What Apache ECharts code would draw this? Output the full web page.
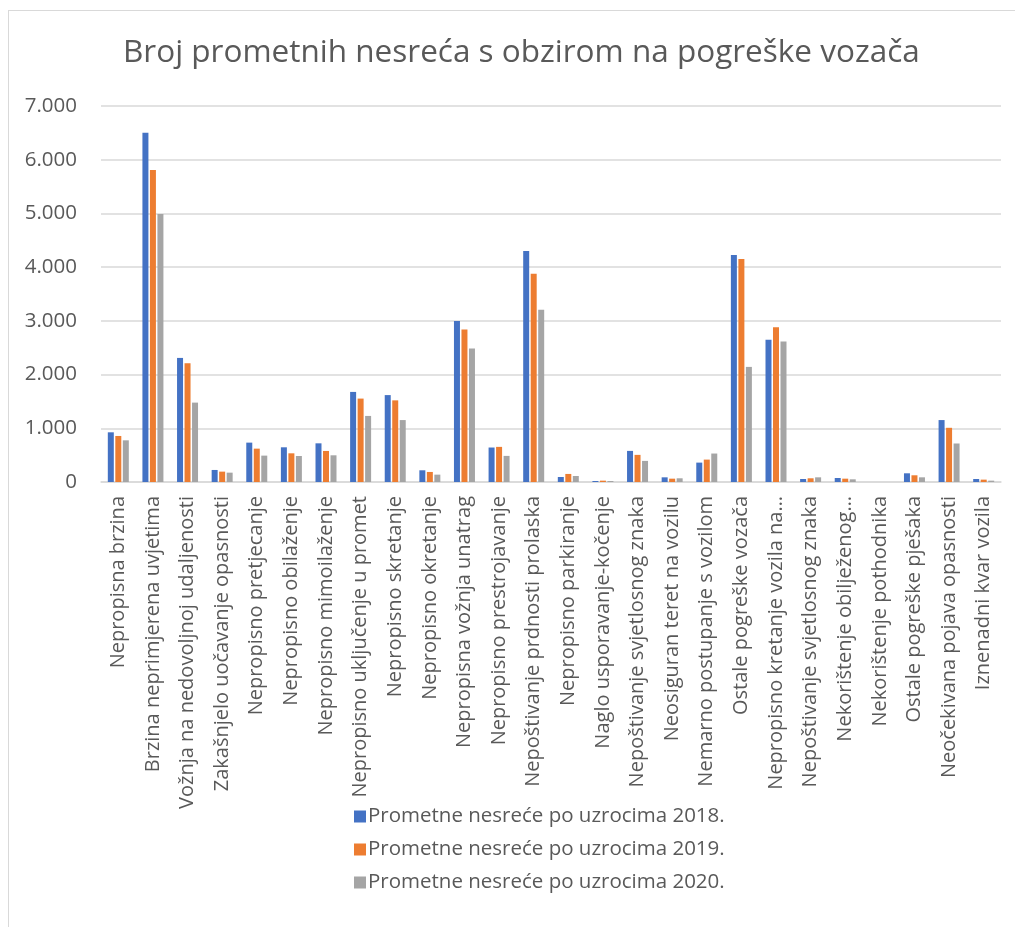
<!DOCTYPE html>
<html>
<head>
<meta charset="utf-8">
<script src="https://cdn.jsdelivr.net/npm/echarts@6/dist/echarts.min.js"></script>
<style>
  html, body { margin: 0; padding: 0; background: #fff; }
  #frame {
    position: absolute; left: 8px; top: 10px;
    width: 1020px; height: 930px;
    border: 1px solid #d9d9d9; box-sizing: border-box;
  }
  #chart { position: absolute; left: 0; top: 0; width: 1015px; height: 927px; }
</style>
</head>
<body>
<div id="frame"></div>
<div id="chart"></div>
<script>
const categories = [
  'Nepropisna brzina',
  'Brzina neprimjerena uvjetima',
  'Vožnja na nedovoljnoj udaljenosti',
  'Zakašnjelo uočavanje opasnosti',
  'Nepropisno pretjecanje',
  'Nepropisno obilaženje',
  'Nepropisno mimoilaženje',
  'Nepropisno uključenje u promet',
  'Nepropisno skretanje',
  'Nepropisno okretanje',
  'Nepropisna vožnja unatrag',
  'Nepropisno prestrojavanje',
  'Nepoštivanje prdnosti prolaska',
  'Nepropisno parkiranje',
  'Naglo usporavanje-kočenje',
  'Nepoštivanje svjetlosnog znaka',
  'Neosiguran teret na vozilu',
  'Nemarno postupanje s vozilom',
  'Ostale pogreške vozača',
  'Nepropisno kretanje vozila na…',
  'Nepoštivanje svjetlosnog znaka',
  'Nekorištenje obilježenog…',
  'Nekorištenje pothodnika',
  'Ostale pogreške pješaka',
  'Neočekivana pojava opasnosti',
  'Iznenadni kvar vozila'
];
const values2018 = [925, 6500, 2310, 224, 733, 646, 720, 1677, 1618, 218, 2997, 642, 4299, 93, 19, 579, 87, 361, 4224, 2648, 56, 75, 0, 162, 1153, 56];
const values2019 = [857, 5807, 2211, 193, 621, 534, 578, 1553, 1520, 187, 2841, 654, 3875, 150, 25, 505, 62, 417, 4150, 2879, 69, 62, 0, 125, 1009, 44];
const values2020 = [776, 4988, 1478, 174, 491, 484, 497, 1230, 1153, 137, 2486, 486, 3209, 112, 19, 393, 69, 530, 2143, 2617, 87, 50, 0, 87, 717, 25];
const seriesNames = [
  'Prometne nesreće po uzrocima 2018.',
  'Prometne nesreće po uzrocima 2019.',
  'Prometne nesreće po uzrocima 2020.'
];
const colors = ['#4472C4', '#ED7D31', '#A5A5A5'];

const font = '"Open Sans", "Noto Sans", sans-serif';
const chart = echarts.init(document.getElementById('chart'));

function fmt(v) {
  return String(v).replace(/\B(?=(\d{3})+(?!\d))/g, '.');
}

chart.setOption({
  animation: false,
  color: colors,
  textStyle: { fontFamily: font },
  title: {
    text: 'Broj prometnih nesreća s obzirom na pogreške vozača',
    left: 123,
    top: 37,
    padding: 0,
    textStyle: { fontFamily: font, fontSize: 31.5, fontWeight: 'normal', color: '#595959' }
  },
  legend: {
    orient: 'vertical',
    left: 349,
    top: 801,
    itemWidth: 12,
    itemHeight: 12,
    itemGap: 12,
    icon: 'rect',
    data: seriesNames,
    textStyle: { fontFamily: font, fontSize: 20.5, color: '#595959', padding: [0, 0, 0, -3] }
  },
  grid: { left: 101, right: 14, top: 106, bottom: 445, containLabel: false },
  xAxis: {
    type: 'category',
    data: categories,
    axisLine: { lineStyle: { color: '#d9d9d9', width: 1.5 } },
    axisTick: { show: false },
    axisLabel: {
      rotate: 90, interval: 0, margin: 14,
      fontFamily: font, fontSize: 20, color: '#595959'
    }
  },
  yAxis: {
    type: 'value',
    min: 0, max: 7000, interval: 1000,
    axisLine: { show: false },
    axisTick: { show: false },
    splitLine: { lineStyle: { color: '#d9d9d9', width: 1.5 } },
    axisLabel: {
      margin: 24, fontFamily: font, fontSize: 20.5, color: '#595959',
      formatter: fmt
    }
  },
  series: [
    { name: seriesNames[0], type: 'bar', data: values2018, barWidth: 6, barGap: '25%' },
    { name: seriesNames[1], type: 'bar', data: values2019, barWidth: 6, barGap: '25%' },
    { name: seriesNames[2], type: 'bar', data: values2020, barWidth: 6, barGap: '25%' }
  ]
});
</script>
</body>
</html>
